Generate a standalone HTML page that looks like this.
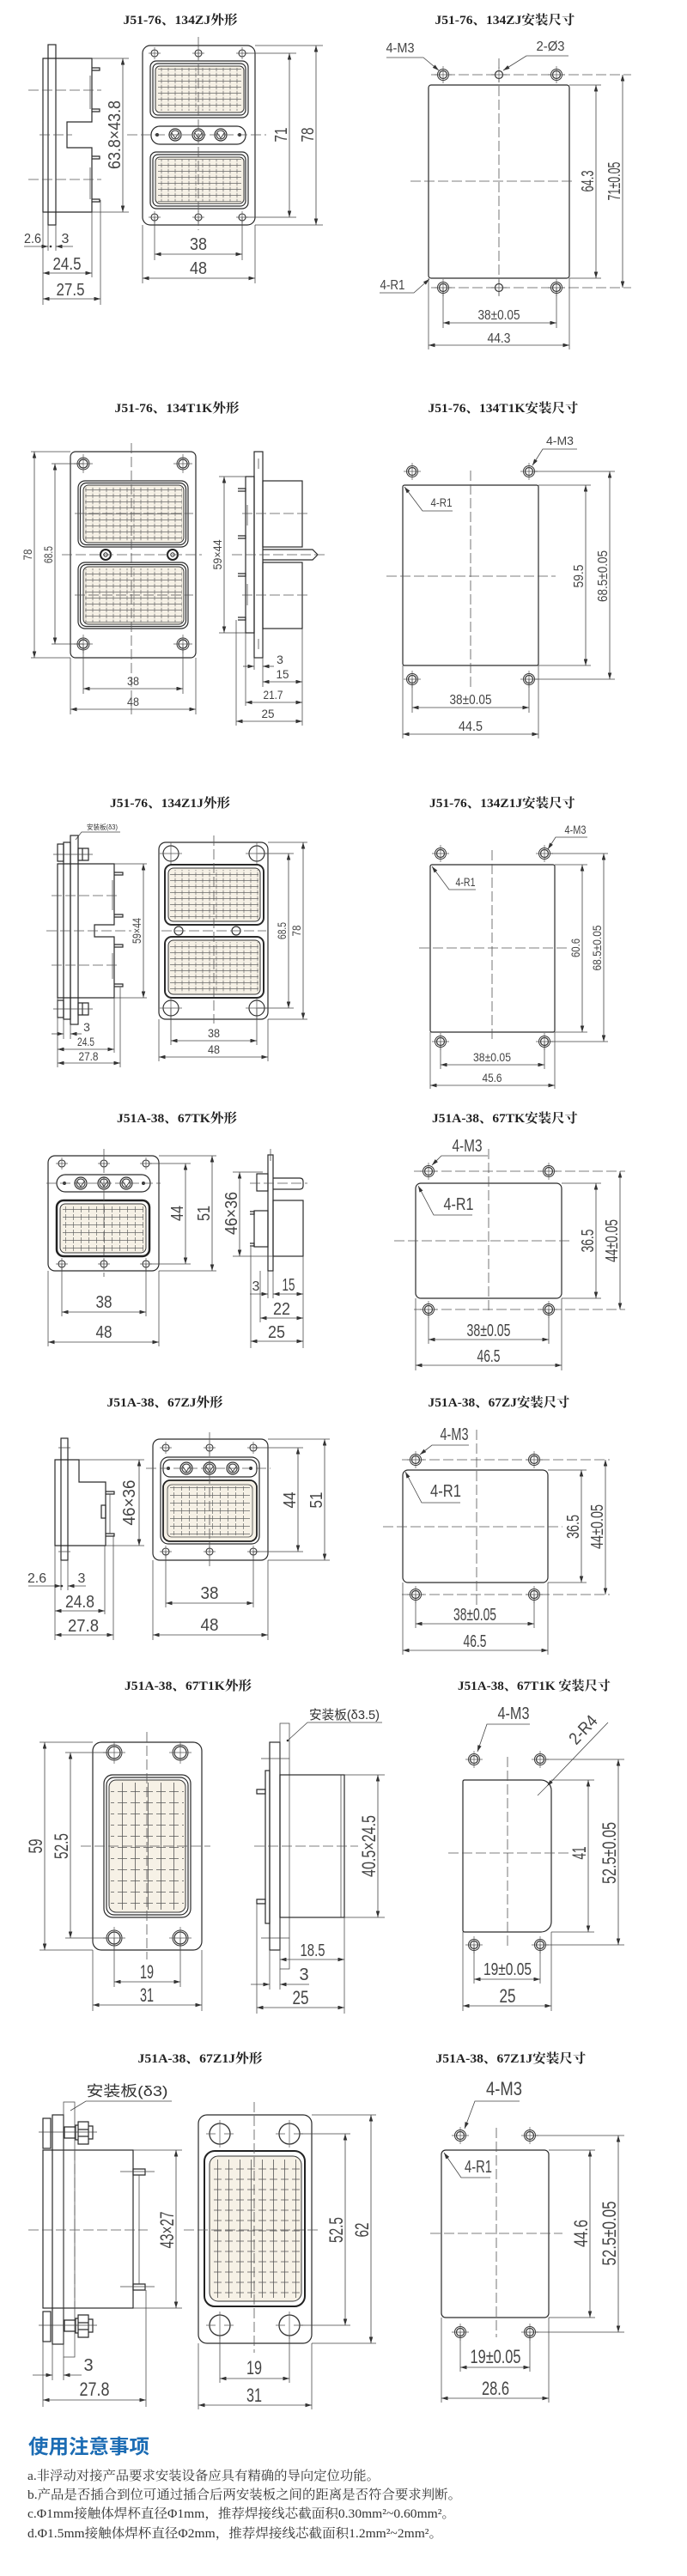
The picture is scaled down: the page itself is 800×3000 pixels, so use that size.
<!DOCTYPE html>
<html><head><meta charset="utf-8">
<style>
html,body{margin:0;padding:0;background:#fff}
svg{display:block}
.o{fill:none;stroke:#2a2a2a;stroke-width:1.2}
.ob{fill:none;stroke:#2a2a2a;stroke-width:2}
.t{fill:none;stroke:#444;stroke-width:0.75}
.c{fill:none;stroke:#555;stroke-width:0.8;stroke-dasharray:12 4}
.dl{fill:none;stroke:#444;stroke-width:0.8;marker-start:url(#ar);marker-end:url(#ar)}
.ld{fill:none;stroke:#444;stroke-width:0.8;marker-end:url(#ar)}
.ti{font-family:"Liberation Serif","Noto Serif CJK SC",serif;font-size:15px;font-weight:bold;fill:#222}
.d14{font-family:"Liberation Sans Narrow","Liberation Sans",sans-serif;font-size:14px;fill:#444}
.d16{font-family:"Liberation Sans Narrow","Liberation Sans",sans-serif;font-size:16px;fill:#444}
.d20{font-family:"Liberation Sans Narrow","Liberation Sans",sans-serif;font-size:20px;fill:#444}
.d22{font-family:"Liberation Sans Narrow","Liberation Sans",sans-serif;font-size:22px;fill:#444}
.lb{font-family:"Liberation Sans","Noto Sans CJK SC",sans-serif;fill:#333}
.ins{fill:#f6f1e6;stroke:#333;stroke-width:1}
.nt{font-family:"Liberation Serif","Noto Serif CJK SC",serif;font-size:15px;fill:#333}
.hd{font-family:"Liberation Sans","Noto Sans CJK SC",sans-serif;font-size:23px;font-weight:bold;fill:#1c6cb4}
</style></head>
<body>
<svg width="800" height="3000" viewBox="0 0 800 3000" xmlns="http://www.w3.org/2000/svg">
<defs>
<marker id="ar" viewBox="0 0 10 6" refX="10" refY="3" markerWidth="8" markerHeight="4.5" orient="auto-start-reverse" markerUnits="userSpaceOnUse"><path d="M0,0L10,3L0,6z" fill="#333"/></marker>
<pattern id="p8" width="8" height="7" patternUnits="userSpaceOnUse"><path d="M0,3.5H8M4,0.8V6.2" stroke="#666" stroke-width="0.7" fill="none"/></pattern>
<pattern id="p9" width="9" height="9" patternUnits="userSpaceOnUse"><path d="M0,4.5H9M4.5,1V8" stroke="#666" stroke-width="0.7" fill="none"/></pattern>
<pattern id="p15" width="15" height="13" patternUnits="userSpaceOnUse"><path d="M2,6.5H13M7.5,0V13" stroke="#555" stroke-width="0.8" fill="none"/></pattern>
<pattern id="p13" width="13" height="12" patternUnits="userSpaceOnUse"><path d="M2,6H11M6.5,0V12" stroke="#555" stroke-width="0.8" fill="none"/></pattern>
<g id="hm"><circle r="6.5" fill="#fff" stroke="#333" stroke-width="1"/><circle r="4.5" fill="none" stroke="#333" stroke-width="1.2"/><path d="M-10,0H10M0,-10V10" stroke="#555" stroke-width="0.7"/></g>
<g id="hs"><circle r="4.5" fill="#fff" stroke="#333" stroke-width="1.2"/><path d="M-9,0H9M0,-9V9" stroke="#555" stroke-width="0.7"/></g>
<g id="h4"><circle r="4" fill="#fff" stroke="#333" stroke-width="1.1"/><path d="M-7,0H7M0,-7V7" stroke="#555" stroke-width="0.7"/></g>
<g id="hd7"><circle r="7" fill="#fff" stroke="#333" stroke-width="1"/><circle r="5" fill="none" stroke="#333" stroke-width="1.2"/><path d="M-11,0H11M0,-11V11" stroke="#555" stroke-width="0.7"/></g>
<g id="h9"><circle r="9" fill="#fff" stroke="#333" stroke-width="1.2"/><path d="M-13,0H13M0,-13V13" stroke="#555" stroke-width="0.7"/></g>
<g id="hd9"><circle r="9" fill="#fff" stroke="#333" stroke-width="1"/><circle r="7" fill="none" stroke="#333" stroke-width="1.2"/><path d="M-13,0H13M0,-13V13" stroke="#555" stroke-width="0.7"/></g>
<g id="h12"><circle r="12" fill="#fff" stroke="#333" stroke-width="1.3"/><path d="M-16,0H-5M5,0H16M0,-16V16" stroke="#555" stroke-width="0.7"/></g>
<g id="pc"><circle r="7" fill="#fff" stroke="#333" stroke-width="1.2"/><circle r="5" fill="none" stroke="#333" stroke-width="1"/><path d="M-4,-2L0,4L4,-2" fill="none" stroke="#333" stroke-width="0.9"/></g>
</defs>

<!-- ================= SECTION 1 ================= -->
<text class="ti" x="210" y="28" text-anchor="middle" textLength="133" lengthAdjust="spacingAndGlyphs">J51-76、134ZJ外形</text>
<text class="ti" x="588" y="28" text-anchor="middle" textLength="163" lengthAdjust="spacingAndGlyphs">J51-76、134ZJ安装尺寸</text>

<!-- side view -->
<path class="o" d="M50,68H107V142H78V172H107V247H50Z"/>
<rect class="o" x="56" y="52" width="9" height="210" fill="#fff"/>
<path class="o" d="M107,79h9v3h-9 M107,127h9v3h-9 M107,182h9v3h-9 M107,232h9v3h-9"/>
<path class="t" d="M105,88V127 M105,195V232"/>
<path class="c" d="M33,105H118 M46,157H84 M33,209H118"/>
<line class="dl" x1="143" y1="68" x2="143" y2="247"/>
<path class="t" d="M107,68H150 M107,247H150"/>
<text class="d20" transform="translate(140,157) rotate(-90)" text-anchor="middle" textLength="80" lengthAdjust="spacingAndGlyphs">63.8×43.8</text>
<path class="t" d="M56,262V292 M65,262V292 M50,247V355 M107,247V323 M117,233V355"/>
<line class="ld" x1="28" y1="287" x2="56" y2="287"/><line class="ld" x1="85" y1="287" x2="65" y2="287"/>
<circle cx="59" cy="287" r="1.3" fill="#333"/>
<text class="d16" x="38" y="283" text-anchor="middle" textLength="20" lengthAdjust="spacingAndGlyphs">2.6</text>
<text class="d16" x="76" y="283" text-anchor="middle">3</text>
<line class="dl" x1="50" y1="318" x2="107" y2="318"/>
<text class="d20" x="78" y="314" text-anchor="middle" textLength="33" lengthAdjust="spacingAndGlyphs">24.5</text>
<line class="dl" x1="50" y1="348" x2="117" y2="348"/>
<text class="d20" x="82" y="344" text-anchor="middle" textLength="33" lengthAdjust="spacingAndGlyphs">27.5</text>

<!-- front view -->
<rect class="o" x="166" y="53" width="131" height="209" rx="9"/>
<use href="#h4" x="180" y="62"/><use href="#h4" x="231" y="62"/><use href="#h4" x="282" y="62"/>
<use href="#h4" x="180" y="253"/><use href="#h4" x="231" y="253"/><use href="#h4" x="282" y="253"/>
<rect class="o" x="175" y="71" width="114" height="66" rx="7"/>
<rect class="o" x="178" y="74" width="108" height="60" rx="6"/>
<rect class="ins" x="181" y="77" width="103" height="54" rx="5"/>
<rect x="184" y="79" width="97" height="50" fill="url(#p8)"/>
<rect class="o" x="176" y="147" width="110" height="21" rx="10"/>
<use href="#pc" x="204" y="157"/><use href="#pc" x="231" y="157"/><use href="#pc" x="257" y="157"/>
<circle cx="183" cy="157" r="2" fill="#333"/><circle cx="279" cy="157" r="2" fill="#333"/>
<rect class="o" x="175" y="177" width="114" height="66" rx="7"/>
<rect class="o" x="178" y="180" width="108" height="60" rx="6"/>
<rect class="ins" x="181" y="183" width="103" height="54" rx="5"/>
<rect x="184" y="185" width="97" height="50" fill="url(#p8)"/>
<path class="c" d="M231,43V268 M148,157H310"/>
<path class="t" d="M286,62H345 M286,253H345 M297,53H376 M297,262H376"/>
<line class="dl" x1="337" y1="62" x2="337" y2="253"/>
<text class="d20" transform="translate(334,157) rotate(-90)" text-anchor="middle" textLength="17" lengthAdjust="spacingAndGlyphs">71</text>
<line class="dl" x1="368" y1="53" x2="368" y2="262"/>
<text class="d20" transform="translate(365,157) rotate(-90)" text-anchor="middle" textLength="17" lengthAdjust="spacingAndGlyphs">78</text>
<path class="t" d="M180,253V303 M282,253V303 M166,262V330 M297,262V330"/>
<line class="dl" x1="180" y1="296" x2="282" y2="296"/>
<text class="d20" x="231" y="291" text-anchor="middle" textLength="20" lengthAdjust="spacingAndGlyphs">38</text>
<line class="dl" x1="166" y1="324" x2="297" y2="324"/>
<text class="d20" x="231" y="319" text-anchor="middle" textLength="20" lengthAdjust="spacingAndGlyphs">48</text>

<!-- install -->
<rect class="o" x="499" y="99" width="164" height="225" rx="3" stroke-width="1.5"/>
<path class="c" d="M502,87H735 M502,335H735 M581,68V345 M478,211H670"/>
<use href="#hm" x="516" y="87"/><use href="#hs" x="581" y="87"/><use href="#hm" x="648" y="87"/>
<use href="#hm" x="516" y="335"/><use href="#hs" x="581" y="335"/><use href="#hm" x="648" y="335"/>
<path class="t" d="M663,99H700 M663,324H700"/>
<line class="dl" x1="694" y1="99" x2="694" y2="324"/>
<text class="d20" transform="translate(691,211) rotate(-90)" text-anchor="middle" textLength="25" lengthAdjust="spacingAndGlyphs">64.3</text>
<line class="dl" x1="725" y1="87" x2="725" y2="335"/>
<text class="d20" transform="translate(722,211) rotate(-90)" text-anchor="middle" textLength="45" lengthAdjust="spacingAndGlyphs">71±0.05</text>
<text class="d16" x="466" y="61" text-anchor="middle" textLength="33" lengthAdjust="spacingAndGlyphs">4-M3</text>
<polyline class="ld" points="450,67 493,67 511,82"/>
<text class="d16" x="641" y="59" text-anchor="middle" textLength="33" lengthAdjust="spacingAndGlyphs">2-Ø3</text>
<polyline class="ld" points="662,65 613,65 586,82"/>
<text class="d16" x="457" y="337" text-anchor="middle" textLength="29" lengthAdjust="spacingAndGlyphs">4-R1</text>
<polyline class="ld" points="442,341 482,341 500,325"/>
<path class="t" d="M516,335V382 M648,335V382 M499,324V407 M663,324V407"/>
<line class="dl" x1="516" y1="376" x2="648" y2="376"/>
<text class="d16" x="581" y="372" text-anchor="middle" textLength="49" lengthAdjust="spacingAndGlyphs">38±0.05</text>
<line class="dl" x1="499" y1="402" x2="663" y2="402"/>
<text class="d16" x="581" y="399" text-anchor="middle" textLength="27" lengthAdjust="spacingAndGlyphs">44.3</text>

<!-- ================= SECTION 2 ================= -->
<text class="ti" x="206" y="480" text-anchor="middle" textLength="145" lengthAdjust="spacingAndGlyphs">J51-76、134T1K外形</text>
<text class="ti" x="586" y="480" text-anchor="middle" textLength="175" lengthAdjust="spacingAndGlyphs">J51-76、134T1K安装尺寸</text>

<!-- front -->
<rect class="o" x="82" y="526" width="146" height="240" rx="6"/>
<use href="#hd7" x="97" y="540"/><use href="#hd7" x="213" y="540"/>
<use href="#hd7" x="97" y="750"/><use href="#hd7" x="213" y="750"/>
<rect class="o" x="91" y="560" width="128" height="77" rx="8"/>
<rect class="o" x="93.5" y="562.5" width="123" height="72" rx="7"/>
<rect class="ins" x="97" y="565" width="117" height="67" rx="6"/>
<rect x="99" y="567" width="113" height="63" fill="url(#p8)"/>
<rect class="o" x="91" y="655" width="128" height="77" rx="8"/>
<rect class="o" x="93.5" y="657.5" width="123" height="72" rx="7"/>
<rect class="ins" x="97" y="660" width="117" height="67" rx="6"/>
<rect x="99" y="662" width="113" height="63" fill="url(#p8)"/>
<circle cx="123" cy="646" r="6" fill="#fff" stroke="#222" stroke-width="2"/><circle cx="123" cy="646" r="2.2" fill="none" stroke="#222"/>
<circle cx="201" cy="646" r="6" fill="#fff" stroke="#222" stroke-width="2"/><circle cx="201" cy="646" r="2.2" fill="none" stroke="#222"/>
<path class="c" d="M153,516V836 M72,646H235 M87,598H225 M87,693H225"/>
<path class="t" d="M36,526H82 M36,766H82 M60,540H97 M60,750H97"/>
<line class="dl" x1="40" y1="526" x2="40" y2="766"/>
<text class="d14" transform="translate(37,646) rotate(-90)" text-anchor="middle" textLength="13" lengthAdjust="spacingAndGlyphs">78</text>
<line class="dl" x1="64" y1="540" x2="64" y2="750"/>
<text class="d14" transform="translate(61,646) rotate(-90)" text-anchor="middle" textLength="20" lengthAdjust="spacingAndGlyphs">68.5</text>
<path class="t" d="M97,750V808 M213,750V808 M82,766V832 M228,766V832"/>
<line class="dl" x1="97" y1="802" x2="213" y2="802"/>
<text class="d14" x="155" y="798" text-anchor="middle" textLength="14" lengthAdjust="spacingAndGlyphs">38</text>
<line class="dl" x1="82" y1="826" x2="228" y2="826"/>
<text class="d14" x="155" y="822" text-anchor="middle" textLength="14" lengthAdjust="spacingAndGlyphs">48</text>

<!-- side -->
<rect class="o" x="286" y="555" width="10" height="182"/>
<rect class="o" x="296" y="526" width="10" height="240" fill="#fff"/>
<path class="o" d="M277,569h9v3h-9 M277,624h9v3h-9 M277,668h9v3h-9 M277,719h9v3h-9"/>
<path class="t" d="M288,588V612 M288,680V705"/>
<rect class="o" x="306" y="560" width="46" height="77"/>
<rect class="o" x="306" y="655" width="46" height="77"/>
<path class="o" d="M306,640H364L370,646L364,652H306"/>
<path class="c" d="M282,598H360 M270,646H378 M282,693H360"/>
<path class="t" d="M301,534V546 M301,744V756"/>
<path class="t" d="M255,555H286 M255,737H286"/>
<line class="dl" x1="261" y1="555" x2="261" y2="737"/>
<text class="d14" transform="translate(258,646) rotate(-90)" text-anchor="middle" textLength="35" lengthAdjust="spacingAndGlyphs">59×44</text>
<path class="t" d="M286,737V822 M296,766V780 M306,766V800 M352,732V845 M275,722V845"/>
<line class="ld" x1="283" y1="776" x2="296" y2="776"/><line class="ld" x1="319" y1="776" x2="306" y2="776"/>
<text class="d14" x="326" y="773" text-anchor="middle">3</text>
<line class="dl" x1="306" y1="794" x2="352" y2="794"/>
<text class="d14" x="329" y="790" text-anchor="middle" textLength="15" lengthAdjust="spacingAndGlyphs">15</text>
<line class="dl" x1="286" y1="818" x2="352" y2="818"/>
<text class="d14" x="318" y="814" text-anchor="middle" textLength="23" lengthAdjust="spacingAndGlyphs">21.7</text>
<line class="dl" x1="275" y1="840" x2="352" y2="840"/>
<text class="d14" x="312" y="836" text-anchor="middle" textLength="15" lengthAdjust="spacingAndGlyphs">25</text>

<!-- install -->
<rect class="o" x="469" y="565" width="158" height="210" rx="2" stroke-width="1.5"/>
<path class="c" d="M548,548V800 M450,671H647"/>
<use href="#hm" x="480" y="549"/><use href="#hm" x="616" y="549"/>
<use href="#hm" x="480" y="791"/><use href="#hm" x="616" y="791"/>
<path class="t" d="M622,549H716 M622,791H716 M627,565H688 M627,775H688"/>
<line class="dl" x1="682" y1="565" x2="682" y2="775"/>
<text class="d16" transform="translate(679,671) rotate(-90)" text-anchor="middle" textLength="27" lengthAdjust="spacingAndGlyphs">59.5</text>
<line class="dl" x1="710" y1="549" x2="710" y2="791"/>
<text class="d16" transform="translate(707,671) rotate(-90)" text-anchor="middle" textLength="60" lengthAdjust="spacingAndGlyphs">68.5±0.05</text>
<text class="d14" x="652" y="518" text-anchor="middle" textLength="32" lengthAdjust="spacingAndGlyphs">4-M3</text>
<polyline class="ld" points="672,523 632,523 620,542"/>
<text class="d14" x="514" y="590" text-anchor="middle" textLength="25" lengthAdjust="spacingAndGlyphs">4-R1</text>
<polyline class="ld" points="527,595 492,595 471,567"/>
<path class="t" d="M480,791V830 M616,791V830 M469,775V860 M627,775V860"/>
<line class="dl" x1="480" y1="824" x2="616" y2="824"/>
<text class="d16" x="548" y="820" text-anchor="middle" textLength="49" lengthAdjust="spacingAndGlyphs">38±0.05</text>
<line class="dl" x1="469" y1="855" x2="627" y2="855"/>
<text class="d16" x="548" y="851" text-anchor="middle" textLength="28" lengthAdjust="spacingAndGlyphs">44.5</text>

<!-- ================= SECTION 3 ================= -->
<text class="ti" x="198" y="940" text-anchor="middle" textLength="140" lengthAdjust="spacingAndGlyphs">J51-76、134Z1J外形</text>
<text class="ti" x="585" y="940" text-anchor="middle" textLength="170" lengthAdjust="spacingAndGlyphs">J51-76、134Z1J安装尺寸</text>

<!-- side -->
<text class="lb" x="119" y="966" text-anchor="middle" font-size="8" textLength="36" lengthAdjust="spacingAndGlyphs">安装板(δ3)</text>
<polyline class="t" points="140,969 95,969 88,978"/>
<path class="o" d="M67,1006H133V1077H110V1091H133V1162H67Z"/>
<rect class="o" x="74" y="981" width="8" height="206" fill="#fff"/>
<rect class="o" x="82" y="973" width="9" height="220" fill="#fff"/>
<rect class="o" x="67" y="983" width="7" height="20" fill="#fff"/>
<rect class="o" x="67" y="1165" width="7" height="20" fill="#fff"/>
<path class="o" d="M91,988h12v14h-12z M96,988v14 M91,1168h12v14h-12z M96,1168v14"/>
<path class="t" d="M62,995H108 M62,1175H108"/>
<path class="o" d="M133,1016h10v3h-10 M133,1065h10v3h-10 M133,1100h10v3h-10 M133,1146h10v3h-10"/>
<path class="t" d="M131,1025V1060 M131,1110V1140"/>
<path class="c" d="M60,1043H138 M54,1084H153 M60,1124H138"/>
<path class="t" d="M133,1006H171 M133,1162H171"/>
<line class="dl" x1="167" y1="1006" x2="167" y2="1162"/>
<text class="d14" transform="translate(164,1084) rotate(-90)" text-anchor="middle" textLength="30" lengthAdjust="spacingAndGlyphs">59×44</text>
<path class="t" d="M74,1187V1210 M82,1193V1210 M67,1162V1243 M133,1162V1226 M140,1150V1243"/>
<line class="ld" x1="60" y1="1204" x2="74" y2="1204"/><line class="ld" x1="95" y1="1204" x2="82" y2="1204"/>
<text class="d14" x="101" y="1201" text-anchor="middle">3</text>
<line class="dl" x1="67" y1="1222" x2="133" y2="1222"/>
<text class="d14" x="100" y="1218" text-anchor="middle" textLength="20" lengthAdjust="spacingAndGlyphs">24.5</text>
<line class="dl" x1="67" y1="1238" x2="140" y2="1238"/>
<text class="d14" x="103" y="1235" text-anchor="middle" textLength="23" lengthAdjust="spacingAndGlyphs">27.8</text>

<!-- front -->
<rect class="o" x="185" y="981" width="127" height="206" rx="8"/>
<use href="#h9" x="199" y="994"/><use href="#h9" x="299" y="994"/>
<use href="#h9" x="199" y="1174"/><use href="#h9" x="299" y="1174"/>
<rect class="ob" x="192" y="1007" width="115" height="70" rx="8"/>
<rect class="ins" x="196" y="1011" width="107" height="62" rx="6"/>
<rect x="198" y="1013" width="103" height="58" fill="url(#p8)"/>
<rect class="ob" x="192" y="1091" width="115" height="71" rx="8"/>
<rect class="ins" x="196" y="1095" width="107" height="63" rx="6"/>
<rect x="198" y="1097" width="103" height="59" fill="url(#p8)"/>
<circle cx="208" cy="1084" r="5" fill="#fff" stroke="#333" stroke-width="1.2"/>
<circle cx="275" cy="1084" r="5" fill="#fff" stroke="#333" stroke-width="1.2"/>
<path class="c" d="M249,973V1192 M188,1084H310"/>
<path class="t" d="M300,994H342 M300,1174H342 M312,981H358 M312,1187H358"/>
<line class="dl" x1="336" y1="994" x2="336" y2="1174"/>
<text class="d14" transform="translate(333,1084) rotate(-90)" text-anchor="middle" textLength="20" lengthAdjust="spacingAndGlyphs">68.5</text>
<line class="dl" x1="353" y1="981" x2="353" y2="1187"/>
<text class="d14" transform="translate(350,1084) rotate(-90)" text-anchor="middle" textLength="13" lengthAdjust="spacingAndGlyphs">78</text>
<path class="t" d="M199,1174V1217 M299,1174V1217 M185,1187V1236 M312,1187V1236"/>
<line class="dl" x1="199" y1="1212" x2="299" y2="1212"/>
<text class="d14" x="249" y="1208" text-anchor="middle" textLength="14" lengthAdjust="spacingAndGlyphs">38</text>
<line class="dl" x1="185" y1="1231" x2="312" y2="1231"/>
<text class="d14" x="249" y="1227" text-anchor="middle" textLength="14" lengthAdjust="spacingAndGlyphs">48</text>

<!-- install -->
<rect class="o" x="501" y="1007" width="145" height="195" rx="2" stroke-width="1.5"/>
<path class="c" d="M573,990V1213 M488,1104H664"/>
<use href="#hm" x="513" y="994"/><use href="#hm" x="634" y="994"/>
<use href="#hm" x="513" y="1213"/><use href="#hm" x="634" y="1213"/>
<path class="t" d="M640,994H708 M640,1213H708 M646,1007H684 M646,1202H684"/>
<line class="dl" x1="678" y1="1007" x2="678" y2="1202"/>
<text class="d14" transform="translate(675,1104) rotate(-90)" text-anchor="middle" textLength="22" lengthAdjust="spacingAndGlyphs">60.6</text>
<line class="dl" x1="703" y1="994" x2="703" y2="1213"/>
<text class="d14" transform="translate(700,1104) rotate(-90)" text-anchor="middle" textLength="53" lengthAdjust="spacingAndGlyphs">68.5±0.05</text>
<text class="d14" x="670" y="971" text-anchor="middle" textLength="25" lengthAdjust="spacingAndGlyphs">4-M3</text>
<polyline class="ld" points="684,975 647,975 638,989"/>
<text class="d14" x="542" y="1032" text-anchor="middle" textLength="23" lengthAdjust="spacingAndGlyphs">4-R1</text>
<polyline class="ld" points="554,1036 523,1036 503,1009"/>
<path class="t" d="M513,1213V1245 M634,1213V1245 M501,1202V1268 M646,1202V1268"/>
<line class="dl" x1="513" y1="1240" x2="634" y2="1240"/>
<text class="d14" x="573" y="1236" text-anchor="middle" textLength="44" lengthAdjust="spacingAndGlyphs">38±0.05</text>
<line class="dl" x1="501" y1="1264" x2="646" y2="1264"/>
<text class="d14" x="573" y="1260" text-anchor="middle" textLength="23" lengthAdjust="spacingAndGlyphs">45.6</text>

<!-- ================= SECTION 4 ================= -->
<text class="ti" x="206" y="1307" text-anchor="middle" textLength="140" lengthAdjust="spacingAndGlyphs">J51A-38、67TK外形</text>
<text class="ti" x="588" y="1307" text-anchor="middle" textLength="170" lengthAdjust="spacingAndGlyphs">J51A-38、67TK安装尺寸</text>

<!-- front -->
<rect class="o" x="56" y="1346" width="129" height="134" rx="8"/>
<use href="#h4" x="72" y="1355"/><use href="#h4" x="121" y="1355"/><use href="#h4" x="170" y="1355"/>
<use href="#h4" x="72" y="1472"/><use href="#h4" x="121" y="1472"/><use href="#h4" x="170" y="1472"/>
<rect class="o" x="66" y="1368" width="109" height="20" rx="10"/>
<use href="#pc" x="94" y="1378"/><use href="#pc" x="121" y="1378"/><use href="#pc" x="147" y="1378"/>
<circle cx="75" cy="1378" r="2" fill="#333"/><circle cx="167" cy="1378" r="2" fill="#333"/>
<rect x="66" y="1398" width="108" height="65" rx="8" fill="none" stroke="#222" stroke-width="2.5"/>
<rect class="ins" x="70" y="1402" width="100" height="57" rx="6"/>
<rect x="73" y="1404" width="94" height="53" fill="url(#p9)"/>
<path class="c" d="M121,1338V1487 M54,1378H187"/>
<path class="t" d="M175,1355H222 M175,1472H222 M185,1346H252 M185,1480H252"/>
<line class="dl" x1="216" y1="1355" x2="216" y2="1472"/>
<text class="d20" transform="translate(213,1413) rotate(-90)" text-anchor="middle" textLength="18" lengthAdjust="spacingAndGlyphs">44</text>
<line class="dl" x1="247" y1="1346" x2="247" y2="1480"/>
<text class="d20" transform="translate(244,1413) rotate(-90)" text-anchor="middle" textLength="18" lengthAdjust="spacingAndGlyphs">51</text>
<path class="t" d="M72,1472V1533 M170,1472V1533 M56,1480V1568 M185,1480V1568"/>
<line class="dl" x1="72" y1="1528" x2="170" y2="1528"/>
<text class="d20" x="121" y="1523" text-anchor="middle" textLength="19" lengthAdjust="spacingAndGlyphs">38</text>
<line class="dl" x1="56" y1="1563" x2="185" y2="1563"/>
<text class="d20" x="121" y="1558" text-anchor="middle" textLength="19" lengthAdjust="spacingAndGlyphs">48</text>

<!-- side -->
<rect class="o" x="299" y="1367" width="13" height="20"/>
<rect class="o" x="296" y="1410" width="16" height="42"/>
<path class="o" d="M291,1411h5v3h-5 M291,1448h5v3h-5"/>
<rect class="o" x="312" y="1345" width="6" height="135" fill="#fff"/>
<rect class="o" x="318" y="1398" width="35" height="65"/>
<path class="o" d="M318,1372H349Q353,1372 353,1376V1381Q353,1385 349,1385H318"/>
<path class="c" d="M291,1378H358"/>
<path class="t" d="M315,1338V1352 M271,1365H306 M271,1463H318"/>
<line class="dl" x1="279" y1="1365" x2="279" y2="1463"/>
<text class="d20" transform="translate(276,1413) rotate(-90)" text-anchor="middle" textLength="50" lengthAdjust="spacingAndGlyphs">46×36</text>
<path class="t" d="M292,1452V1570 M353,1463V1570 M303,1480V1540 M312,1480V1512 M318,1480V1512"/>
<line class="ld" x1="291" y1="1507" x2="312" y2="1507"/><line class="dl" x1="318" y1="1507" x2="353" y2="1507"/>
<text class="d16" x="298" y="1503" text-anchor="middle">3</text>
<text class="d20" x="336" y="1503" text-anchor="middle" textLength="15" lengthAdjust="spacingAndGlyphs">15</text>
<line class="dl" x1="303" y1="1535" x2="353" y2="1535"/>
<text class="d20" x="328" y="1531" text-anchor="middle" textLength="20" lengthAdjust="spacingAndGlyphs">22</text>
<line class="dl" x1="292" y1="1562" x2="353" y2="1562"/>
<text class="d20" x="322" y="1558" text-anchor="middle" textLength="20" lengthAdjust="spacingAndGlyphs">25</text>

<!-- install -->
<rect class="o" x="484" y="1378" width="170" height="134" rx="6" stroke-width="1.5"/>
<path class="c" d="M482,1364H728 M482,1525H728 M569,1338V1530 M459,1445H667"/>
<use href="#hm" x="499" y="1364"/><use href="#hm" x="639" y="1364"/>
<use href="#hm" x="499" y="1525"/><use href="#hm" x="639" y="1525"/>
<path class="t" d="M654,1378H700 M654,1512H700"/>
<line class="dl" x1="694" y1="1378" x2="694" y2="1512"/>
<text class="d20" transform="translate(691,1445) rotate(-90)" text-anchor="middle" textLength="27" lengthAdjust="spacingAndGlyphs">36.5</text>
<line class="dl" x1="722" y1="1364" x2="722" y2="1525"/>
<text class="d20" transform="translate(719,1445) rotate(-90)" text-anchor="middle" textLength="50" lengthAdjust="spacingAndGlyphs">44±0.05</text>
<text class="d20" x="544" y="1341" text-anchor="middle" textLength="35" lengthAdjust="spacingAndGlyphs">4-M3</text>
<polyline class="ld" points="568,1346 514,1346 503,1357"/>
<text class="d20" x="534" y="1409" text-anchor="middle" textLength="35" lengthAdjust="spacingAndGlyphs">4-R1</text>
<polyline class="ld" points="550,1415 505,1415 487,1381"/>
<path class="t" d="M499,1525V1565 M639,1525V1565 M484,1512V1596 M654,1512V1596"/>
<line class="dl" x1="499" y1="1560" x2="639" y2="1560"/>
<text class="d20" x="569" y="1556" text-anchor="middle" textLength="51" lengthAdjust="spacingAndGlyphs">38±0.05</text>
<line class="dl" x1="484" y1="1590" x2="654" y2="1590"/>
<text class="d20" x="569" y="1586" text-anchor="middle" textLength="27" lengthAdjust="spacingAndGlyphs">46.5</text>

<!-- ================= SECTION 5 ================= -->
<text class="ti" x="192" y="1638" text-anchor="middle" textLength="135" lengthAdjust="spacingAndGlyphs">J51A-38、67ZJ外形</text>
<text class="ti" x="581" y="1638" text-anchor="middle" textLength="165" lengthAdjust="spacingAndGlyphs">J51A-38、67ZJ安装尺寸</text>

<!-- side -->
<path class="o" d="M64,1700H92V1726H123V1800H64Z"/>
<rect class="o" x="71" y="1675" width="8" height="142" fill="#fff"/>
<path class="o" d="M123,1737h10v3h-10 M123,1786h10v3h-10"/>
<path class="t" d="M128,1740V1786"/>
<rect class="o" x="118" y="1753" width="5" height="15"/>
<path class="t" d="M68,1686H82 M68,1807H82"/>
<path class="t" d="M92,1700H168 M123,1800H168"/>
<line class="dl" x1="162" y1="1700" x2="162" y2="1800"/>
<text class="d20" transform="translate(157,1750) rotate(-90)" text-anchor="middle" textLength="53" lengthAdjust="spacingAndGlyphs">46×36</text>
<path class="t" d="M71,1817V1852 M79,1817V1852 M64,1800V1910 M122,1800V1880 M132,1788V1910"/>
<line class="ld" x1="33" y1="1847" x2="71" y2="1847"/><line class="ld" x1="100" y1="1847" x2="79" y2="1847"/>
<circle cx="72" cy="1847" r="1.3" fill="#333"/>
<text class="d16" x="43" y="1843" text-anchor="middle" textLength="22" lengthAdjust="spacingAndGlyphs">2.6</text>
<text class="d16" x="95" y="1843" text-anchor="middle">3</text>
<line class="dl" x1="64" y1="1876" x2="122" y2="1876"/>
<text class="d20" x="93" y="1872" text-anchor="middle" textLength="34" lengthAdjust="spacingAndGlyphs">24.8</text>
<line class="dl" x1="64" y1="1904" x2="132" y2="1904"/>
<text class="d20" x="97" y="1900" text-anchor="middle" textLength="36" lengthAdjust="spacingAndGlyphs">27.8</text>

<!-- front -->
<rect class="o" x="178" y="1676" width="134" height="141" rx="8"/>
<use href="#h4" x="193" y="1686"/><use href="#h4" x="244" y="1686"/><use href="#h4" x="295" y="1686"/>
<use href="#h4" x="193" y="1807"/><use href="#h4" x="244" y="1807"/><use href="#h4" x="295" y="1807"/>
<rect class="o" x="187" y="1697" width="115" height="101" rx="9"/>
<rect class="o" x="190" y="1700" width="109" height="20" rx="8"/>
<use href="#pc" x="217" y="1710"/><use href="#pc" x="244" y="1710"/><use href="#pc" x="271" y="1710"/>
<circle cx="196" cy="1710" r="2" fill="#333"/><circle cx="292" cy="1710" r="2" fill="#333"/>
<rect x="190" y="1724" width="109" height="71" rx="8" fill="#f6f1e6" stroke="#222" stroke-width="1.8"/>
<rect x="195" y="1729" width="99" height="61" rx="5" fill="none" stroke="#444" stroke-width="0.8"/>
<rect x="198" y="1731" width="93" height="57" fill="url(#p9)"/>
<path class="c" d="M244,1668V1825 M170,1710H315"/>
<path class="t" d="M295,1686H353 M295,1807H353 M312,1676H384 M312,1817H384"/>
<line class="dl" x1="347" y1="1686" x2="347" y2="1807"/>
<text class="d20" transform="translate(344,1747) rotate(-90)" text-anchor="middle" textLength="19" lengthAdjust="spacingAndGlyphs">44</text>
<line class="dl" x1="378" y1="1676" x2="378" y2="1817"/>
<text class="d20" transform="translate(375,1747) rotate(-90)" text-anchor="middle" textLength="19" lengthAdjust="spacingAndGlyphs">51</text>
<path class="t" d="M193,1807V1872 M295,1807V1872 M178,1817V1910 M312,1817V1910"/>
<line class="dl" x1="193" y1="1867" x2="295" y2="1867"/>
<text class="d20" x="244" y="1862" text-anchor="middle" textLength="21" lengthAdjust="spacingAndGlyphs">38</text>
<line class="dl" x1="178" y1="1904" x2="312" y2="1904"/>
<text class="d20" x="244" y="1899" text-anchor="middle" textLength="21" lengthAdjust="spacingAndGlyphs">48</text>

<!-- install -->
<rect class="o" x="469" y="1712" width="169" height="131" rx="6" stroke-width="1.5"/>
<path class="c" d="M468,1700H710 M468,1857H710 M555,1665V1870 M446,1778H655"/>
<use href="#hm" x="484" y="1700"/><use href="#hm" x="622" y="1700"/>
<use href="#hm" x="484" y="1857"/><use href="#hm" x="622" y="1857"/>
<path class="t" d="M638,1712H683 M638,1843H683"/>
<line class="dl" x1="677" y1="1712" x2="677" y2="1843"/>
<text class="d20" transform="translate(674,1778) rotate(-90)" text-anchor="middle" textLength="28" lengthAdjust="spacingAndGlyphs">36.5</text>
<line class="dl" x1="705" y1="1700" x2="705" y2="1857"/>
<text class="d20" transform="translate(702,1778) rotate(-90)" text-anchor="middle" textLength="52" lengthAdjust="spacingAndGlyphs">44±0.05</text>
<text class="d20" x="529" y="1677" text-anchor="middle" textLength="33" lengthAdjust="spacingAndGlyphs">4-M3</text>
<polyline class="ld" points="546,1683 503,1683 489,1694"/>
<text class="d20" x="519" y="1743" text-anchor="middle" textLength="36" lengthAdjust="spacingAndGlyphs">4-R1</text>
<polyline class="ld" points="536,1750 491,1750 472,1714"/>
<path class="t" d="M484,1857V1896 M622,1857V1896 M469,1843V1927 M638,1843V1927"/>
<line class="dl" x1="484" y1="1891" x2="622" y2="1891"/>
<text class="d20" x="553" y="1887" text-anchor="middle" textLength="50" lengthAdjust="spacingAndGlyphs">38±0.05</text>
<line class="dl" x1="469" y1="1922" x2="638" y2="1922"/>
<text class="d20" x="553" y="1918" text-anchor="middle" textLength="27" lengthAdjust="spacingAndGlyphs">46.5</text>

<!-- ================= SECTION 6 ================= -->
<text class="ti" x="219" y="1968" text-anchor="middle" textLength="148" lengthAdjust="spacingAndGlyphs">J51A-38、67T1K外形</text>
<text class="ti" x="622" y="1968" text-anchor="middle" textLength="178" lengthAdjust="spacingAndGlyphs">J51A-38、67T1K 安装尺寸</text>

<!-- front -->
<rect class="o" x="108" y="2029" width="127" height="242" rx="10"/>
<use href="#hd9" x="133" y="2041"/><use href="#hd9" x="210" y="2041"/>
<use href="#hd9" x="133" y="2257"/><use href="#hd9" x="210" y="2257"/>
<rect class="o" x="121" y="2067" width="101" height="166" rx="10" stroke-width="1.5"/>
<rect class="o" x="124" y="2070" width="95" height="160" rx="9"/>
<rect class="ins" x="127" y="2073" width="89" height="154" rx="8"/>
<rect x="129" y="2076" width="85" height="148" fill="url(#p15)"/>
<path class="c" d="M171,2017V2282 M94,2150H245"/>
<path class="t" d="M46,2029H108 M46,2271H108 M76,2041H125 M76,2257H125"/>
<line class="dl" x1="52" y1="2029" x2="52" y2="2271"/>
<text class="d22" transform="translate(49,2150) rotate(-90)" text-anchor="middle" textLength="17" lengthAdjust="spacingAndGlyphs">59</text>
<line class="dl" x1="82" y1="2041" x2="82" y2="2257"/>
<text class="d22" transform="translate(79,2150) rotate(-90)" text-anchor="middle" textLength="30" lengthAdjust="spacingAndGlyphs">52.5</text>
<path class="t" d="M133,2257V2314 M210,2257V2314 M108,2271V2342 M235,2271V2342"/>
<line class="dl" x1="133" y1="2308" x2="210" y2="2308"/>
<text class="d22" x="171" y="2304" text-anchor="middle" textLength="16" lengthAdjust="spacingAndGlyphs">19</text>
<line class="dl" x1="108" y1="2335" x2="235" y2="2335"/>
<text class="d22" x="171" y="2331" text-anchor="middle" textLength="16" lengthAdjust="spacingAndGlyphs">31</text>

<!-- side -->
<text class="lb" x="401" y="2002" text-anchor="middle" font-size="15" textLength="82" lengthAdjust="spacingAndGlyphs">安装板(δ3.5)</text>
<polyline class="t" points="445,2006 358,2006 335,2027"/>
<circle cx="335" cy="2027" r="1.3" fill="#333"/>
<rect class="o" x="309" y="2062" width="5" height="178"/>
<path class="o" d="M299,2084h10v5h-10z M299,2212h10v5h-10z"/>
<rect class="o" x="314" y="2029" width="12" height="242" fill="#fff"/>
<rect class="t" x="326" y="2007" width="11" height="286" fill="#fff"/>
<rect class="o" x="326" y="2067" width="75" height="166" fill="#fff"/>
<path class="t" d="M397,2067V2233"/>
<path class="c" d="M296,2150H417"/>
<path class="t" d="M304,2048H337 M304,2257H337"/>
<path class="t" d="M401,2067H448 M401,2233H448"/>
<line class="dl" x1="440" y1="2067" x2="440" y2="2233"/>
<text class="d22" transform="translate(437,2150) rotate(-90)" text-anchor="middle" textLength="72" lengthAdjust="spacingAndGlyphs">40.5×24.5</text>
<path class="t" d="M299,2217V2345 M314,2271V2317 M326,2293V2317 M401,2233V2345"/>
<line class="dl" x1="326" y1="2282" x2="401" y2="2282"/>
<text class="d20" x="364" y="2278" text-anchor="middle" textLength="29" lengthAdjust="spacingAndGlyphs">18.5</text>
<line class="ld" x1="292" y1="2311" x2="314" y2="2311"/><line class="ld" x1="360" y1="2311" x2="326" y2="2311"/>
<text class="d20" x="354" y="2306" text-anchor="middle">3</text>
<line class="dl" x1="299" y1="2338" x2="401" y2="2338"/>
<text class="d22" x="350" y="2334" text-anchor="middle" textLength="19" lengthAdjust="spacingAndGlyphs">25</text>

<!-- install -->
<path class="o" stroke-width="1.5" d="M541,2073H630A12,12 0 0 1 642,2085V2238A12,12 0 0 1 630,2250H541Q539,2250 539,2248V2075Q539,2073 541,2073Z"/>
<path class="c" d="M591,2046V2270 M522,2158H665"/>
<use href="#hm" x="552" y="2049"/><use href="#hm" x="629" y="2049"/>
<use href="#hm" x="552" y="2265"/><use href="#hm" x="629" y="2265"/>
<path class="t" d="M636,2049H727 M636,2265H727 M642,2073H692 M642,2250H692"/>
<line class="dl" x1="685" y1="2073" x2="685" y2="2250"/>
<text class="d22" transform="translate(682,2158) rotate(-90)" text-anchor="middle" textLength="15" lengthAdjust="spacingAndGlyphs">41</text>
<line class="dl" x1="720" y1="2049" x2="720" y2="2265"/>
<text class="d22" transform="translate(717,2158) rotate(-90)" text-anchor="middle" textLength="72" lengthAdjust="spacingAndGlyphs">52.5±0.05</text>
<text class="d20" x="598" y="2002" text-anchor="middle" textLength="37" lengthAdjust="spacingAndGlyphs">4-M3</text>
<polyline class="ld" points="617,2008 567,2008 556,2040"/>
<text class="d20" transform="translate(684,2019) rotate(-47)" text-anchor="middle" textLength="38" lengthAdjust="spacingAndGlyphs">2-R4</text>
<line class="ld" x1="708" y1="2006" x2="637" y2="2080"/>
<line class="t" x1="637" y1="2080" x2="626" y2="2091"/>
<path class="t" d="M552,2265V2310 M629,2265V2310 M539,2250V2342 M642,2250V2342"/>
<line class="dl" x1="552" y1="2305" x2="629" y2="2305"/>
<text class="d20" x="591" y="2300" text-anchor="middle" textLength="56" lengthAdjust="spacingAndGlyphs">19±0.05</text>
<line class="dl" x1="539" y1="2336" x2="642" y2="2336"/>
<text class="d22" x="591" y="2332" text-anchor="middle" textLength="19" lengthAdjust="spacingAndGlyphs">25</text>

<!-- ================= SECTION 7 ================= -->
<text class="ti" x="233" y="2402" text-anchor="middle" textLength="145" lengthAdjust="spacingAndGlyphs">J51A-38、67Z1J外形</text>
<text class="ti" x="595" y="2402" text-anchor="middle" textLength="175" lengthAdjust="spacingAndGlyphs">J51A-38、67Z1J安装尺寸</text>

<!-- side -->
<text class="lb" x="148" y="2441" text-anchor="middle" font-size="17" textLength="95" lengthAdjust="spacingAndGlyphs">安装板(δ3)</text>
<polyline class="t" points="200,2447 100,2447 82,2458"/>
<rect class="o" x="50" y="2504" width="105" height="184"/>
<rect class="o" x="61" y="2463" width="13" height="267" fill="#fff"/>
<rect class="t" x="74" y="2448" width="13" height="297" fill="#fff"/>
<path class="c" d="M87,2504V2688"/>
<rect class="o" x="50" y="2467" width="9" height="35" fill="#fff"/>
<rect class="o" x="50" y="2692" width="9" height="35" fill="#fff"/>
<path class="o" d="M75,2477h13v13h-13z M88,2475h3v17h-3z M91,2471h12v26h-12z M91,2480h12 M91,2488h12 M103,2476h5v15h-5z"/>
<path class="o" d="M75,2702h13v13h-13z M88,2700h3v17h-3z M91,2696h12v26h-12z M91,2705h12 M91,2713h12 M103,2701h5v15h-5z"/>
<path class="t" d="M45,2483H113 M45,2708H113"/>
<path class="o" d="M155,2526h14v7h-14z M155,2660h14v7h-14z"/>
<path class="t" d="M162,2533V2660 M140,2529H180 M140,2663H180"/>
<path class="c" d="M33,2597H172"/>
<path class="t" d="M155,2504H212 M155,2688H212"/>
<line class="dl" x1="205" y1="2504" x2="205" y2="2688"/>
<text class="d22" transform="translate(202,2597) rotate(-90)" text-anchor="middle" textLength="43" lengthAdjust="spacingAndGlyphs">43×27</text>
<path class="t" d="M50,2727V2803 M170,2667V2803 M61,2730V2772 M74,2745V2772"/>
<line class="ld" x1="38" y1="2766" x2="61" y2="2766"/><line class="ld" x1="95" y1="2766" x2="74" y2="2766"/>
<text class="d20" x="103" y="2761" text-anchor="middle">3</text>
<line class="dl" x1="50" y1="2795" x2="170" y2="2795"/>
<text class="d22" x="110" y="2790" text-anchor="middle" textLength="35" lengthAdjust="spacingAndGlyphs">27.8</text>

<!-- front -->
<rect class="o" x="231" y="2463" width="132" height="266" rx="10"/>
<use href="#h12" x="256" y="2485"/><use href="#h12" x="337" y="2485"/>
<use href="#h12" x="256" y="2708"/><use href="#h12" x="337" y="2708"/>
<rect x="238" y="2505" width="117" height="181" rx="12" fill="none" stroke="#222" stroke-width="2"/>
<rect class="ins" x="244" y="2511" width="107" height="169" rx="10"/>
<rect x="246" y="2515" width="103" height="161" fill="url(#p13)"/>
<path class="c" d="M296,2448V2740 M214,2597H372"/>
<path class="t" d="M349,2485H408 M349,2708H408 M363,2463H438 M363,2729H438"/>
<line class="dl" x1="402" y1="2485" x2="402" y2="2708"/>
<text class="d22" transform="translate(399,2597) rotate(-90)" text-anchor="middle" textLength="30" lengthAdjust="spacingAndGlyphs">52.5</text>
<line class="dl" x1="432" y1="2463" x2="432" y2="2729"/>
<text class="d22" transform="translate(429,2597) rotate(-90)" text-anchor="middle" textLength="17" lengthAdjust="spacingAndGlyphs">62</text>
<path class="t" d="M256,2720V2775 M337,2720V2775 M231,2729V2806 M363,2729V2806"/>
<line class="dl" x1="256" y1="2770" x2="337" y2="2770"/>
<text class="d22" x="296" y="2765" text-anchor="middle" textLength="18" lengthAdjust="spacingAndGlyphs">19</text>
<line class="dl" x1="231" y1="2801" x2="363" y2="2801"/>
<text class="d22" x="296" y="2797" text-anchor="middle" textLength="18" lengthAdjust="spacingAndGlyphs">31</text>

<!-- install -->
<rect class="o" x="514" y="2504" width="125" height="195" rx="5" stroke-width="1.5"/>
<path class="c" d="M578,2478V2722 M501,2601H655"/>
<use href="#hm" x="536" y="2487"/><use href="#hm" x="617" y="2487"/>
<use href="#hm" x="536" y="2716"/><use href="#hm" x="617" y="2716"/>
<path class="t" d="M624,2487H727 M624,2716H727 M639,2504H693 M639,2699H693"/>
<line class="dl" x1="687" y1="2504" x2="687" y2="2699"/>
<text class="d22" transform="translate(684,2601) rotate(-90)" text-anchor="middle" textLength="32" lengthAdjust="spacingAndGlyphs">44.6</text>
<line class="dl" x1="720" y1="2487" x2="720" y2="2716"/>
<text class="d22" transform="translate(717,2601) rotate(-90)" text-anchor="middle" textLength="75" lengthAdjust="spacingAndGlyphs">52.5±0.05</text>
<text class="d22" x="587" y="2440" text-anchor="middle" textLength="42" lengthAdjust="spacingAndGlyphs">4-M3</text>
<polyline class="ld" points="605,2447 553,2447 541,2479"/>
<text class="d20" x="557" y="2530" text-anchor="middle" textLength="32" lengthAdjust="spacingAndGlyphs">4-R1</text>
<polyline class="ld" points="571,2536 537,2536 517,2507"/>
<path class="t" d="M536,2716V2762 M617,2716V2762 M514,2699V2798 M639,2699V2798"/>
<line class="dl" x1="536" y1="2757" x2="617" y2="2757"/>
<text class="d22" x="577" y="2752" text-anchor="middle" textLength="59" lengthAdjust="spacingAndGlyphs">19±0.05</text>
<line class="dl" x1="514" y1="2793" x2="639" y2="2793"/>
<text class="d22" x="577" y="2789" text-anchor="middle" textLength="32" lengthAdjust="spacingAndGlyphs">28.6</text>

<!-- ================= NOTES ================= -->
<text class="hd" x="33" y="2857" textLength="141" lengthAdjust="spacingAndGlyphs">使用注意事项</text>
<text class="nt" x="32" y="2888" textLength="410" lengthAdjust="spacingAndGlyphs">a.非浮动对接产品要求安装设备应具有精确的导向定位功能。</text>
<text class="nt" x="32" y="2910" textLength="505" lengthAdjust="spacingAndGlyphs">b.产品是否插合到位可通过插合后两安装板之间的距离是否符合要求判断。</text>
<text class="nt" x="32" y="2932" textLength="498" lengthAdjust="spacingAndGlyphs">c.Φ1mm接触体焊杯直径Φ1mm，推荐焊接线芯截面积0.30mm²~0.60mm²。</text>
<text class="nt" x="32" y="2955" textLength="483" lengthAdjust="spacingAndGlyphs">d.Φ1.5mm接触体焊杯直径Φ2mm，推荐焊接线芯截面积1.2mm²~2mm²。</text>
</svg>
</body></html>
